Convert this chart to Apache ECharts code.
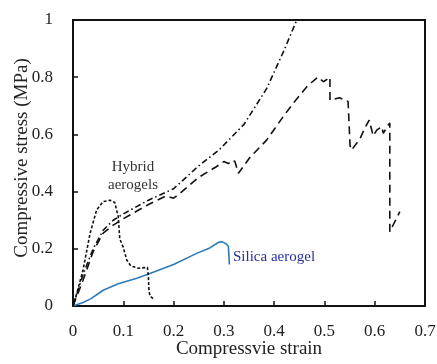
<!DOCTYPE html>
<html><head><meta charset="utf-8">
<script src="https://cdn.jsdelivr.net/npm/echarts@6/dist/echarts.min.js"></script>
<style>html,body{margin:0;padding:0;background:#fff}#c{width:437px;height:364px}</style>
</head><body><div id="c"></div>
<script>
const xTicks = [0, 0.1, 0.2, 0.3, 0.4, 0.5, 0.6, 0.7];
const yTicks = [0, 0.2, 0.4, 0.6, 0.8, 1];

const hybridA_strain = [0, 0.01, 0.02, 0.034, 0.047, 0.06, 0.074, 0.083, 0.09, 0.093, 0.1, 0.107, 0.115, 0.13, 0.148, 0.15, 0.151, 0.153, 0.16];
const hybridA_stress = [0, 0.06, 0.126, 0.254, 0.336, 0.365, 0.37, 0.362, 0.312, 0.235, 0.205, 0.16, 0.14, 0.132, 0.135, 0.1, 0.056, 0.035, 0.025];

const hybridB_strain = [0, 0.02, 0.04, 0.06, 0.08, 0.1, 0.15, 0.185, 0.2, 0.21, 0.25, 0.285, 0.3, 0.309, 0.318, 0.322, 0.329, 0.352, 0.385, 0.418, 0.438, 0.465, 0.484, 0.488, 0.498, 0.511, 0.511, 0.53, 0.547, 0.551, 0.554, 0.557, 0.571, 0.58, 0.589, 0.597, 0.604, 0.614, 0.617, 0.627, 0.63, 0.63, 0.65];
const hybridB_stress = [0, 0.09, 0.19, 0.255, 0.283, 0.305, 0.355, 0.385, 0.377, 0.39, 0.45, 0.487, 0.505, 0.498, 0.51, 0.505, 0.464, 0.52, 0.58, 0.662, 0.709, 0.767, 0.796, 0.80, 0.784, 0.80, 0.72, 0.728, 0.715, 0.56, 0.545, 0.548, 0.586, 0.621, 0.65, 0.595, 0.615, 0.627, 0.604, 0.633, 0.64, 0.26, 0.33];

const hybridC_strain = [0, 0.02, 0.04, 0.06, 0.08, 0.1, 0.15, 0.2, 0.25, 0.29, 0.34, 0.385, 0.42, 0.445, 0.45];
const hybridC_stress = [0, 0.11, 0.2, 0.265, 0.3, 0.322, 0.37, 0.41, 0.49, 0.545, 0.635, 0.76, 0.895, 1.0, 1.03];

const silica_strain = [0, 0.02, 0.035, 0.06, 0.09, 0.127, 0.153, 0.2, 0.246, 0.272, 0.289, 0.296, 0.305, 0.309, 0.311];
const silica_stress = [0, 0.012, 0.025, 0.055, 0.078, 0.097, 0.114, 0.145, 0.184, 0.203, 0.222, 0.225, 0.217, 0.208, 0.145];

const zip = (a, b) => a.map((v, i) => [v, b[i]]);
const font = '"Liberation Serif", "DejaVu Serif", serif';

const chart = echarts.init(document.getElementById('c'), null, {renderer: 'canvas'});
chart.setOption({
  animation: false,
  grid: {left: 73, right: 12, top: 20, bottom: 58, containLabel: false, outerBoundsMode: 'none',
         show: true, borderColor: '#111', borderWidth: 2, backgroundColor: 'transparent'},
  xAxis: {
    type: 'value', min: 0, max: 0.7, interval: 0.1,
    name: 'Compressvie strain', nameLocation: 'middle', nameGap: 34, nameMoveOverlap: false,
    nameTextStyle: {fontFamily: font, fontSize: 19, color: '#222'},
    axisLine: {show: true, lineStyle: {color: '#111', width: 2}},
    axisTick: {show: true, inside: true, length: 5, lineStyle: {color: '#111', width: 1.5}},
    axisLabel: {fontFamily: font, fontSize: 17, color: '#222', margin: 17,
      formatter: v => { const t = xTicks.find(x => Math.abs(x - v) < 1e-9); return t === undefined ? '' : String(t); }},
    splitLine: {show: false}
  },
  yAxis: {
    type: 'value', min: 0, max: 1, interval: 0.2,
    name: 'Compressive stress (MPa)', nameLocation: 'middle', nameGap: 41, nameMoveOverlap: false,
    nameTextStyle: {fontFamily: font, fontSize: 19, color: '#222', padding: [0, 0, 0, 10]},
    axisLine: {show: true, lineStyle: {color: '#111', width: 2}},
    axisTick: {show: true, inside: true, length: 5, lineStyle: {color: '#111', width: 1.5}},
    axisLabel: {fontFamily: font, fontSize: 17, color: '#222', margin: 20,
      formatter: v => { const t = yTicks.find(y => Math.abs(y - v) < 1e-9); return t === undefined ? '' : String(t); }},
    splitLine: {show: false}
  },
  series: [
    {type: 'line', data: zip(silica_strain, silica_stress), showSymbol: false, smooth: false,
     lineStyle: {color: '#2b7bb9', width: 1.6}},
    {type: 'line', data: zip(hybridA_strain, hybridA_stress), showSymbol: false, clip: true,
     lineStyle: {color: '#111', width: 1.6, type: [3, 2]}},
    {type: 'line', data: zip(hybridB_strain, hybridB_stress), showSymbol: false, clip: true,
     lineStyle: {color: '#111', width: 1.6, type: [8, 5]}},
    {type: 'line', data: zip(hybridC_strain, hybridC_stress), showSymbol: false, clip: true,
     lineStyle: {color: '#111', width: 1.6, type: [6, 3, 1.5, 3]}}
  ],
  graphic: [
    {type: 'text', x: 133, y: 167, z: 10, style: {text: 'Hybrid', font: '15px ' + font, fill: '#333', align: 'center', verticalAlign: 'middle'}},
    {type: 'text', x: 133, y: 185, z: 10, style: {text: 'aerogels', font: '15px ' + font, fill: '#333', align: 'center', verticalAlign: 'middle'}},
    {type: 'text', x: 233, y: 257, z: 10, style: {text: 'Silica aerogel', font: '15px ' + font, fill: '#2b2f9e', align: 'left', verticalAlign: 'middle'}}
  ]
});
</script></body></html>
